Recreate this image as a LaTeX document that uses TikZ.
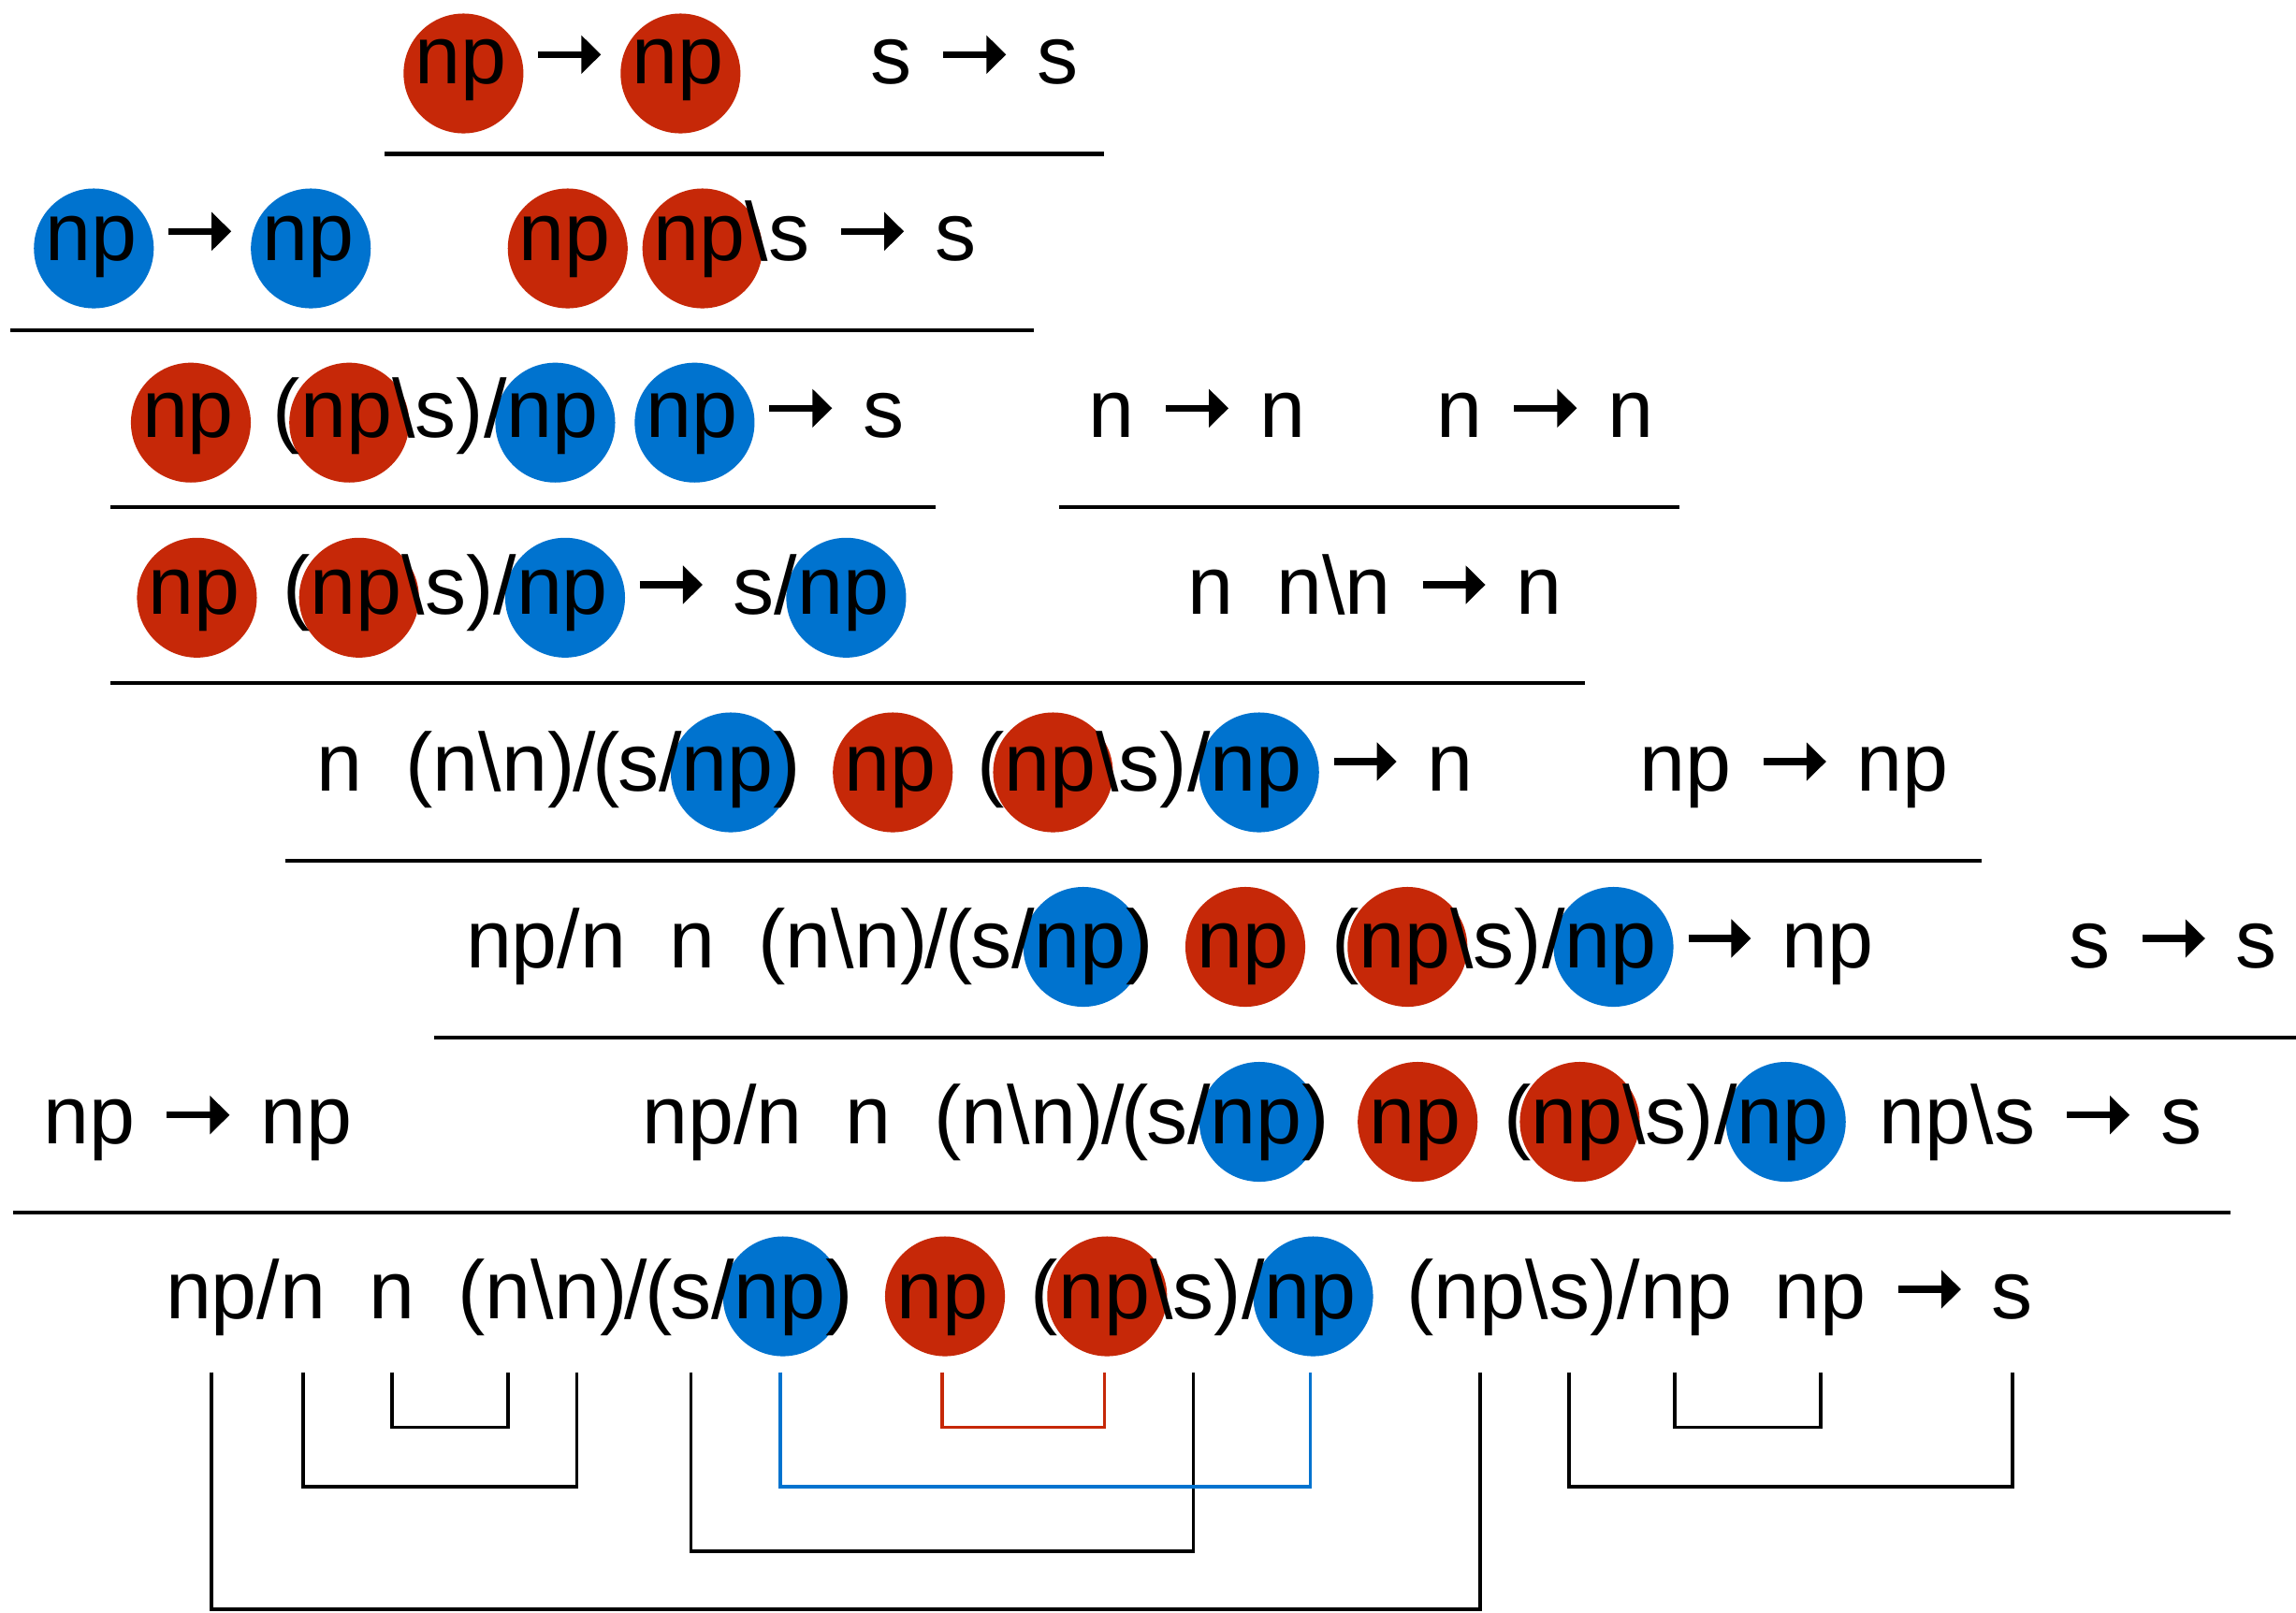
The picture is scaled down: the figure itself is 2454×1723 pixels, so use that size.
\documentclass[tikz,border=0pt]{standalone}
\usepackage{fontspec}
\setmainfont{Liberation Sans}
\usetikzlibrary{calc,arrows.meta}
\definecolor{npred}{RGB}{198,40,8}
\definecolor{npblue}{RGB}{0,115,207}
\pgfdeclarelayer{bg}
\pgfsetlayers{bg,main}
\newcommand\fs{\fontsize{25.04pt}{30pt}\selectfont}
\newcommand\bs{\textbackslash}
\newcommand\kk{\kern-0.03em}
\tikzset{
  tok/.style={inner sep=0pt, outer sep=0pt, anchor=base west, font=\fs},
  arr/.style={line width=0.075cm, -{Triangle[length=0.21cm,width=0.40cm]}},
  rulesty/.style={line width=0.045cm},
  brk/.style={line width=0.035cm, line join=miter},
}
% next token, contiguous
\newcommand\Nx[3]{\node[tok] (#1) at (#2.base east) {#3};}
% next token after a double space (optional gap in px)
\newcommand\Gx[4][46]{\node[tok] (#2) at ($(#3.base east)+(#1,0)$) {#4};}
% arrow after #2, then token #1
\newcommand\Ax[3]{%
  \coordinate (#1-as) at ($(#2.base east)+(34,-31)$);
  \coordinate (#1-ae) at ($(#1-as)+(67,0)$);
  \draw[arr] (#1-as) -- (#1-ae);
  \node[tok] (#1) at ($(#1-ae)+(33,31)$) {#3};}
% disc behind a token
\newcommand\Cr[3]{\begin{pgfonlayer}{bg}\fill[#3] ($(#1.base |- #2)+(3,0)$) circle[radius=0.64cm];\end{pgfonlayer}}
\begin{document}
\begin{tikzpicture}[x=0.01cm,y=-0.01cm]
\begin{pgfonlayer}{bg}
\fill[white] (0,0) rectangle (2454,1723);
\end{pgfonlayer}
\useasboundingbox (0,0) rectangle (2454,1723);
\coordinate (c1) at (0,78.5);
\coordinate (c2) at (0,265.5);
\coordinate (c3) at (0,451.7);
\coordinate (c4) at (0,638.8);
\coordinate (c5) at (0,825.5);
\coordinate (c6) at (0,1012);
\coordinate (c7) at (0,1199);
\coordinate (c8) at (0,1385.5);
% ---------- row 1
\node[tok] (r1a) at (443.4,89.3) {np};
\Ax{r1b}{r1a}{np}
\node[tok] (r1c) at (930.3,89.3) {s};
\Ax{r1d}{r1c}{s}
\Cr{r1a}{c1}{npred}\Cr{r1b}{c1}{npred}
\draw[rulesty] (411,164.5) -- (1180,164.5);
% ---------- row 2
\node[tok] (r2a) at (48.3,278.3) {np};
\Ax{r2b}{r2a}{np}
\node[tok] (r2c) at (554.8,278.3) {np};
\Gx{r2d}{r2c}{np}
\Nx{r2e}{r2d}{\bs s}
\Ax{r2f}{r2e}{s}
\Cr{r2a}{c2}{npblue}\Cr{r2b}{c2}{npblue}
\Cr{r2c}{c2}{npred}\Cr{r2d}{c2}{npred}
\draw[rulesty] (10.5,353) -- (1105,353);
% ---------- row 3
\node[tok] (r3a) at (152,467.3) {np};
\Gx[42]{r3b}{r3a}{(}
\Nx{r3c}{r3b}{np}
\Nx{r3d}{r3c}{\bs s)/}
\Nx{r3e}{r3d}{np}
\Gx[51]{r3f}{r3e}{np}
\Ax{r3g}{r3f}{s}
\node[tok] (r3h) at (1163.1,467.3) {n};
\Ax{r3i}{r3h}{n}
\node[tok] (r3j) at (1535.5,467.3) {n};
\Ax{r3k}{r3j}{n}
\Cr{r3a}{c3}{npred}\Cr{r3c}{c3}{npred}
\Cr{r3e}{c3}{npblue}\Cr{r3f}{c3}{npblue}
\draw[rulesty] (118,542) -- (1000,542);
\draw[rulesty] (1131.6,542) -- (1795.4,542);
% ---------- row 4
\node[tok] (r4a) at (158.5,656) {np};
\Gx{r4b}{r4a}{(}
\Nx{r4c}{r4b}{np}
\Nx{r4d}{r4c}{\bs s)/}
\Nx{r4e}{r4d}{np}
\Ax{r4f}{r4e}{s/}
\Nx{r4g}{r4f}{np}
\node[tok] (r4h) at (1269.2,656) {n};
\Gx{r4i}{r4h}{n\bs n}
\Ax{r4j}{r4i}{n}
\Cr{r4a}{c4}{npred}\Cr{r4c}{c4}{npred}
\Cr{r4e}{c4}{npblue}\Cr{r4g}{c4}{npblue}
\draw[rulesty] (118,730) -- (1694,730);
% ---------- row 5
\node[tok] (r5a) at (338.6,845) {n};
\Gx{r5b}{r5a}{(n\bs n)\kk/\kk(\kk s/}
\Nx{r5c}{r5b}{np}
\Nx{r5d}{r5c}{)}
\Gx{r5e}{r5d}{np}
\Gx[44]{r5f}{r5e}{(}
\Nx{r5g}{r5f}{np}
\Nx{r5h}{r5g}{\bs s)/}
\Nx{r5i}{r5h}{np}
\Ax{r5j}{r5i}{n}
\node[tok] (r5k) at (1752.9,845) {np};
\Ax{r5l}{r5k}{np}
\Cr{r5c}{c5}{npblue}\Cr{r5e}{c5}{npred}
\Cr{r5g}{c5}{npred}\Cr{r5i}{c5}{npblue}
\draw[rulesty] (305,920) -- (2118,920);
% ---------- row 6
\node[tok] (r6a) at (498,1034) {np/n};
\Gx{r6b}{r6a}{n}
\Gx{r6c}{r6b}{(n\bs n)\kk/\kk(\kk s/}
\Nx{r6d}{r6c}{np}
\Nx{r6e}{r6d}{)}
\Gx{r6f}{r6e}{np}
\Gx{r6g}{r6f}{(}
\Nx{r6h}{r6g}{np}
\Nx{r6i}{r6h}{\bs s)/}
\Nx{r6j}{r6i}{np}
\Ax{r6k}{r6j}{np}
\node[tok] (r6l) at (2211.8,1034) {s};
\Ax{r6m}{r6l}{s}
\Cr{r6d}{c6}{npblue}\Cr{r6f}{c6}{npred}
\Cr{r6h}{c6}{npred}\Cr{r6j}{c6}{npblue}
\draw[rulesty] (464.3,1109) -- (2454,1109);
% ---------- row 7
\node[tok] (r7a) at (46.5,1222.7) {np};
\Ax{r7b}{r7a}{np}
\node[tok] (r7c) at (686.2,1222.7) {np/n};
\Gx{r7d}{r7c}{n}
\Gx{r7e}{r7d}{(n\bs n)\kk/\kk(\kk s/}
\Nx{r7f}{r7e}{np}
\Nx{r7g}{r7f}{)}
\Gx[42]{r7h}{r7g}{np}
\Gx{r7i}{r7h}{(}
\Nx{r7j}{r7i}{np}
\Nx{r7k}{r7j}{\bs s)/}
\Nx{r7l}{r7k}{np}
\Gx[54]{r7m}{r7l}{np\bs s}
\Ax{r7n}{r7m}{s}
\Cr{r7f}{c7}{npblue}\Cr{r7h}{c7}{npred}
\Cr{r7j}{c7}{npred}\Cr{r7l}{c7}{npblue}
\draw[rulesty] (14,1296) -- (2383.5,1296);
% ---------- row 8
\node[tok] (r8a) at (177,1409) {np};
\Nx{r8b}{r8a}{/}
\Nx{r8c}{r8b}{n}
\Gx{r8d}{r8c}{n}
\Gx{r8e}{r8d}{(}
\Nx{r8f}{r8e}{n}
\Nx{r8g}{r8f}{\bs}
\Nx{r8h}{r8g}{n}
\Nx{r8i}{r8h}{)\kk/\kk(\kk}
\Nx{r8j}{r8i}{s}
\Nx{r8k}{r8j}{/}
\Nx{r8l}{r8k}{np}
\Nx{r8m}{r8l}{)}
\Gx{r8n}{r8m}{np}
\Gx{r8o}{r8n}{(}
\Nx{r8p}{r8o}{np}
\Nx{r8q}{r8p}{\bs}
\Nx{r8r}{r8q}{s}
\Nx{r8s}{r8r}{)/}
\Nx{r8t}{r8s}{np}
\Gx[54]{r8u}{r8t}{(}
\Nx{r8v}{r8u}{np}
\Nx{r8w}{r8v}{\bs}
\Nx{r8x}{r8w}{s}
\Nx{r8y}{r8x}{)/}
\Nx{r8z}{r8y}{np}
\Gx{r8aa}{r8z}{np}
\Ax{r8ab}{r8aa}{s}
\Cr{r8l}{c8}{npblue}\Cr{r8n}{c8}{npred}
\Cr{r8p}{c8}{npred}\Cr{r8t}{c8}{npblue}
% ---------- brackets
\coordinate (bt) at (0,1466.7);
\coordinate (bC) at (0,1525.5);
\coordinate (bB) at (0,1589);
\coordinate (bD) at (0,1658);
\coordinate (bA) at (0,1720);
\draw[brk] (r8a.base |- bt) -- (r8a.base |- bA) -- (r8v.base |- bA) -- (r8v.base |- bt);
\draw[brk] (r8c.base |- bt) -- (r8c.base |- bB) -- (r8h.base |- bB) -- (r8h.base |- bt);
\draw[brk] (r8d.base |- bt) -- (r8d.base |- bC) -- (r8f.base |- bC) -- (r8f.base |- bt);
\draw[brk] (r8j.base |- bt) -- (r8j.base |- bD) -- (r8r.base |- bD) -- (r8r.base |- bt);
\draw[brk,npblue] (r8l.base |- bt) -- (r8l.base |- bB) -- (r8t.base |- bB) -- (r8t.base |- bt);
\draw[brk,npred] (r8n.base |- bt) -- (r8n.base |- bC) -- (r8p.base |- bC) -- (r8p.base |- bt);
\draw[brk] (r8x.base |- bt) -- (r8x.base |- bB) -- (r8ab.base |- bB) -- (r8ab.base |- bt);
\draw[brk] ($(r8z.base |- bt)+(-12,0)$) -- ($(r8z.base |- bC)+(-12,0)$) -- (r8aa.base |- bC) -- (r8aa.base |- bt);
\end{tikzpicture}
\end{document}
